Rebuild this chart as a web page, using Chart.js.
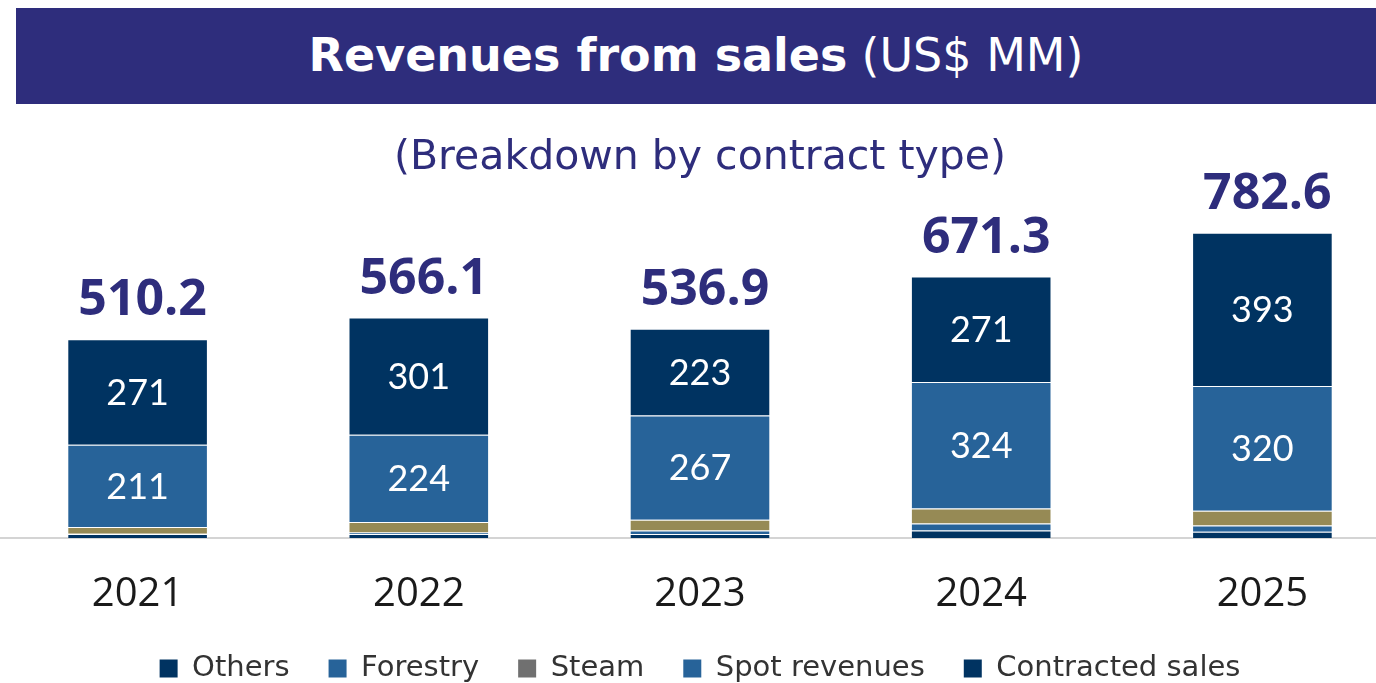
<!DOCTYPE html>
<html>
<head>
<meta charset="utf-8">
<script src="https://cdn.jsdelivr.net/npm/chart.js@4.4.0/dist/chart.umd.min.js"></script>
<style>
  html, body { margin: 0; padding: 0; background: #fff; overflow: hidden; }
  body { width: 1376px; height: 683px; position: relative; }
  #faixa {
    position: absolute; left: 16px; top: 8px; width: 1360px; height: 96px;
    background: #2e2d7c; color: #fff; z-index: 2;
    font-family: "DejaVu Sans", sans-serif; font-size: 46px;
    display: flex; align-items: center; justify-content: center;
    padding-bottom: 2px; box-sizing: border-box;
  }
  #faixa b { font-weight: 700; margin-right: 14px; }
  #caixa { position: absolute; left: -3px; top: 0; width: 1406px; height: 693px; }
</style>
</head>
<body>
<div id="faixa"><b>Revenues from sales</b><span>(US$ MM)</span></div>
<div id="caixa"><canvas id="graficoReceita"></canvas></div>
<script>
// anos e valores por tipo de contrato (US$ MM)
const anos = ['2021', '2022', '2023', '2024', '2025'];
const outros = [10, 10, 10, 19, 16];
const florestal = [1, 4, 9, 18, 16];
const vapor = [17, 27, 28, 39, 38];
const spot = [211, 224, 267, 324, 320];
const contratado = [271, 301, 223, 271, 393];
const totais = ['510.2', '566.1', '536.9', '671.3', '782.6'];

const corNavy = '#003361';
const corAzul = '#276399';
const corOuro = '#968a55';
const corTitulo = '#2e2d7c';

// rótulos dentro das barras e totais acima
const rotulosPlugin = {
    id: 'rotulos',
    afterDatasetsDraw(chart) {
        const c = chart.ctx;
        c.save();
        c.textAlign = 'center';
        c.textBaseline = 'middle';
        [3, 4].forEach(i => {
            const meta = chart.getDatasetMeta(i);
            meta.data.forEach((barra, j) => {
                const meio = (barra.y + barra.base) / 2;
                c.fillStyle = '#ffffff';
                c.font = '36px Lato';
                c.fillText(chart.data.datasets[i].data[j], barra.x, meio + 1);
            });
        });
        const topo = chart.getDatasetMeta(4);
        topo.data.forEach((barra, j) => {
            c.fillStyle = corTitulo;
            c.font = 'bold 50px "Open Sans"';
            c.fillText(totais[j], barra.x + 5, barra.y - 38);
        });
        c.restore();
    }
};

const ctx = document.getElementById('graficoReceita').getContext('2d');
const graficoReceita = new Chart(ctx, {
    type: 'bar',
    data: {
        labels: anos,
        datasets: [
            { label: 'Others', data: outros, backgroundColor: corNavy, legendaCor: corNavy },
            { label: 'Forestry', data: florestal, backgroundColor: corAzul, legendaCor: corAzul },
            { label: 'Steam', data: vapor, backgroundColor: corOuro, legendaCor: '#707070' },
            { label: 'Spot revenues', data: spot, backgroundColor: corAzul, legendaCor: corAzul },
            { label: 'Contracted sales', data: contratado, backgroundColor: corNavy, legendaCor: corNavy }
        ].map(d => Object.assign(d, {
            borderColor: 'rgba(255,255,255,0.35)',
            borderWidth: 1,
            barPercentage: 0.5,
            categoryPercentage: 1
        }))
    },
    options: {
        responsive: true,
        maintainAspectRatio: false,
        animation: false,
        layout: { padding: { top: 134, bottom: 0, left: 0, right: 0 } },
        plugins: {
            title: {
                display: true,
                text: '(Breakdown by contract type)',
                color: corTitulo,
                font: { family: 'DejaVu Sans', size: 41, weight: 'normal', lineHeight: 1.2 },
                padding: { top: 0, bottom: 4 }
            },
            legend: {
                position: 'bottom',
                labels: {
                    color: '#333333',
                    font: { family: 'DejaVu Sans', size: 29 },
                    boxWidth: 18,
                    boxHeight: 18,
                    padding: 39,
                    generateLabels(chart) {
                        return chart.data.datasets.map((d, i) => ({
                            text: d.label,
                            fillStyle: d.legendaCor,
                            strokeStyle: d.legendaCor,
                            lineWidth: 0,
                            fontColor: '#333333',
                            datasetIndex: i,
                            hidden: false
                        }));
                    }
                }
            },
            tooltip: { enabled: false }
        },
        scales: {
            x: {
                stacked: true,
                grid: { display: false, drawTicks: false },
                border: { display: true, color: '#d4d4d4', width: 2 },
                ticks: { color: '#1a1a1a', font: { family: 'Open Sans', size: 40 }, padding: 33 },
                afterFit(escala) { escala.height = escala.height - 37; }
            },
            y: {
                stacked: true,
                display: false,
                min: 0,
                max: 900
            }
        }
    },
    plugins: [rotulosPlugin]
});
</script>
</body>
</html>
